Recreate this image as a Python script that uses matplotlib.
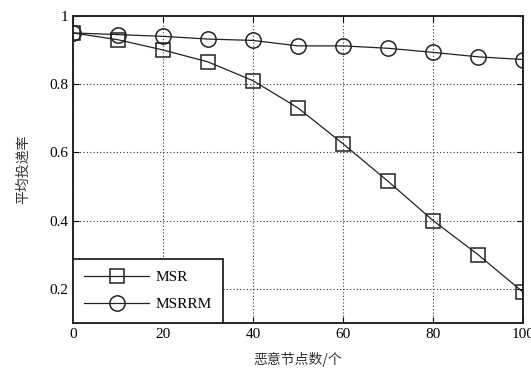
import matplotlib
matplotlib.use("Agg")
import matplotlib.pyplot as plt

x = [0, 10, 20, 30, 40, 50, 60, 70, 80, 90, 100]
msr = [0.95, 0.93, 0.90, 0.865, 0.81, 0.73, 0.625, 0.515, 0.40, 0.30, 0.19]
msrrm = [0.95, 0.945, 0.94, 0.932, 0.928, 0.912, 0.912, 0.905, 0.893, 0.88, 0.872]
xticks = [0, 20, 40, 60, 80, 100]
yticks = [0.2, 0.4, 0.6, 0.8, 1.0]
yticklabels = ["0.2", "0.4", "0.6", "0.8", "1"]

plt.rcParams['font.family'] = ['Liberation Serif', 'Noto Sans CJK SC']

fig = plt.figure(figsize=(5.31, 3.69), dpi=100)
ax = fig.add_axes([0.1375, 0.125, 0.8475, 0.832])

ax.plot(x, msr, color='#222222', lw=0.9, marker='s', ms=10, mfc='none',
        mec='#222222', mew=1.1, label='MSR')
ax.plot(x, msrrm, color='#222222', lw=0.9, marker='o', ms=11, mfc='none',
        mec='#222222', mew=1.1, label='MSRRM')

ax.set_xlim(0, 100)
ax.set_ylim(0.1, 1)
ax.set_xticks(xticks)
ax.set_yticks(yticks)
ax.set_yticklabels(yticklabels)
ax.grid(True, linestyle=(0, (1, 2)), color='#333333', lw=0.8)
ax.tick_params(direction='in', top=True, right=True, labelsize=11, length=4)
for s in ax.spines.values():
    s.set_linewidth(1.4)
    s.set_color('#222222')

ax.set_xlabel('恶意节点数/个', family=['Noto Sans CJK SC'], fontsize=10,
              color='#333333', labelpad=8)
ax.set_ylabel('平均投递率', family=['Noto Sans CJK SC'], fontsize=10,
              color='#333333', labelpad=14)

leg = ax.legend(loc='lower left', fancybox=False, edgecolor='#222222',
                handlelength=4.2, borderaxespad=0, fontsize=11, framealpha=1,
                labelspacing=0.9, borderpad=0.75, handletextpad=0.45)
leg.get_frame().set_linewidth(1.3)

fig.savefig('out.png', dpi=100)
